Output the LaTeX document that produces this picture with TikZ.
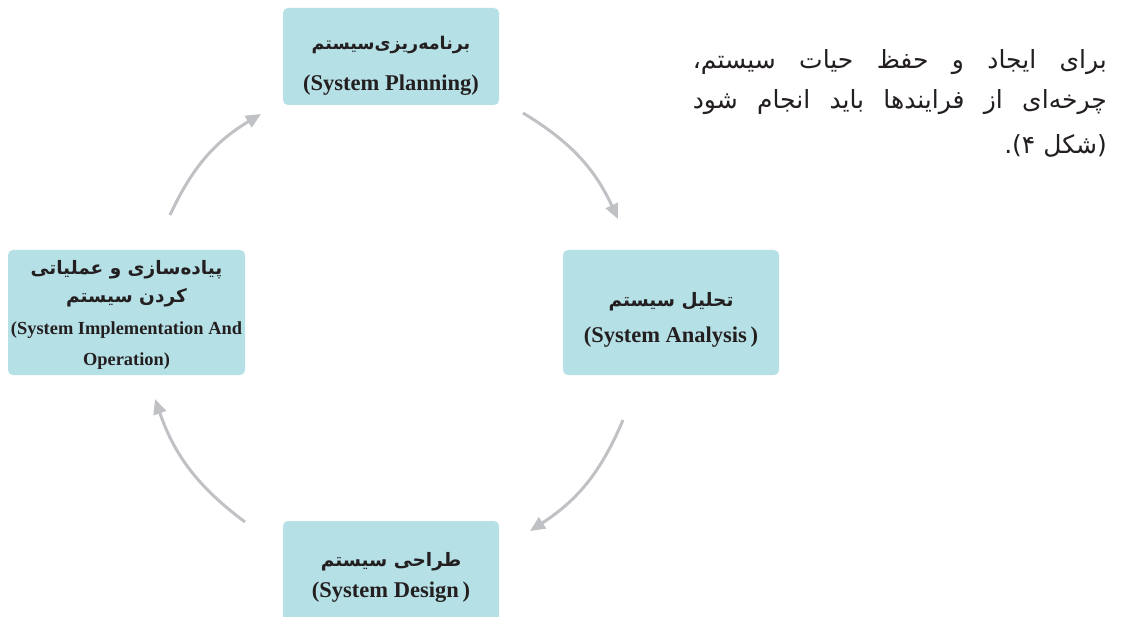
\documentclass[tikz,border=0pt]{standalone}
\usepackage{fontspec}
\setmainfont{Liberation Serif}
\newfontfamily\fatext[Script=Arabic]{DejaVu Sans}
\TeXXeTstate=1
\usetikzlibrary{arrows.meta,positioning}
\definecolor{boxblue}{RGB}{181,224,230}
\definecolor{arrowgray}{RGB}{192,193,197}
\definecolor{inkdark}{RGB}{35,31,32}
\tikzset{
  stagebox/.style = {draw=none, fill=boxblue, rounded corners=5pt,
    minimum width=216pt, inner sep=0pt},% boite d'etape
  fa_b/.style = {font=\fatext\bfseries\fontsize{18.5}{22}\selectfont,
    text=inkdark, inner sep=0pt},% titre persan
  en_b/.style = {font=\bfseries\fontsize{22.5}{26}\selectfont,
    text=inkdark, inner sep=0pt},% titre anglais
  para/.style = {font=\fatext\fontsize{25}{30}\selectfont,
    text=inkdark, inner sep=0pt, anchor=east},% texte courant
  cycle_arr/.style = {-{Triangle[length=15pt,width=13pt]}, line width=3pt,
    draw=arrowgray, bend left=17}% fleche du cycle
}

\begin{document}
\begin{tikzpicture}[x=1pt,y=-1pt]
        \useasboundingbox (0,0) rectangle (1121,617);
        \clip (0,0) rectangle (1121,617);
        \fill[white] (0,0) rectangle (1121,617);
        % etapes
        \node [stagebox, minimum height=97pt] (plan) at (391,56.5) {};
        \node [fa_b, font=\fatext\bfseries\fontsize{17.5}{21}\selectfont] (planFa) at (391,45) {\beginR برنامه‌ریزی‌سیستم\endR};
        \node [en_b] (planEn) at (391,85) {(System Planning)};

        \node [stagebox, minimum height=125pt] (analysis) at (671,312.5) {};
        \node [fa_b] (analysisFa) at (671,302) {\beginR تحلیل سیستم\endR};
        \node [en_b] (analysisEn) at (671,337) {(System Analysis\,)};

        \node [stagebox, minimum height=110pt] (design) at (391,576) {};
        \node [fa_b] (designFa) at (391,562) {\beginR طراحی سیستم\endR};
        \node [en_b] (designEn) at (391,592) {(System Design\,)};

        \node [stagebox, minimum width=237pt, minimum height=125pt] (implement) at (126.5,312.5) {};
        \node [fa_b] (implementFa) at (126.5,270) {\beginR پیاده‌سازی و عملیاتی\endR};
        \node [fa_b] (implementFb) at (126.5,298) {\beginR کردن سیستم\endR};
        \node [en_b, font=\bfseries\fontsize{18.4}{21}\selectfont] (implementEn) at (126.5,330) {(System Implementation And};
        \node [en_b, font=\bfseries\fontsize{18.4}{21}\selectfont] (implementEo) at (126.5,361) {Operation)};

        % bouts des fleches
        \coordinate (a1) at (523,113);
        \coordinate (b1) at (618,219);
        \coordinate (a2) at (623,420);
        \coordinate (b2) at (530,531);
        \coordinate (a3) at (245,522);
        \coordinate (b3) at (155,399);
        \coordinate (a4) at (170,215);
        \coordinate (b4) at (261,114);
        \draw [cycle_arr] (a1) to (b1);
        \draw [cycle_arr] (a2) to (b2);
        \draw [cycle_arr] (a3) to (b3);
        \draw [cycle_arr] (a4) to (b4);

        % texte
        \node [para] (line1) at (1107,62) {\hbox to 414pt{\beginR برای\hfill ایجاد\hfill و\hfill حفظ\hfill حیات\hfill سیستم،\endR}};
        \node [para] (line2) at (1107,102) {\hbox to 414pt{\beginR چرخه‌ای\hfill از\hfill فرایندها\hfill باید\hfill انجام\hfill شود\endR}};
        \node [para] (line3) at (1107,146) {\beginR (شکل ۴).\endR};
\end{tikzpicture}
\end{document}
